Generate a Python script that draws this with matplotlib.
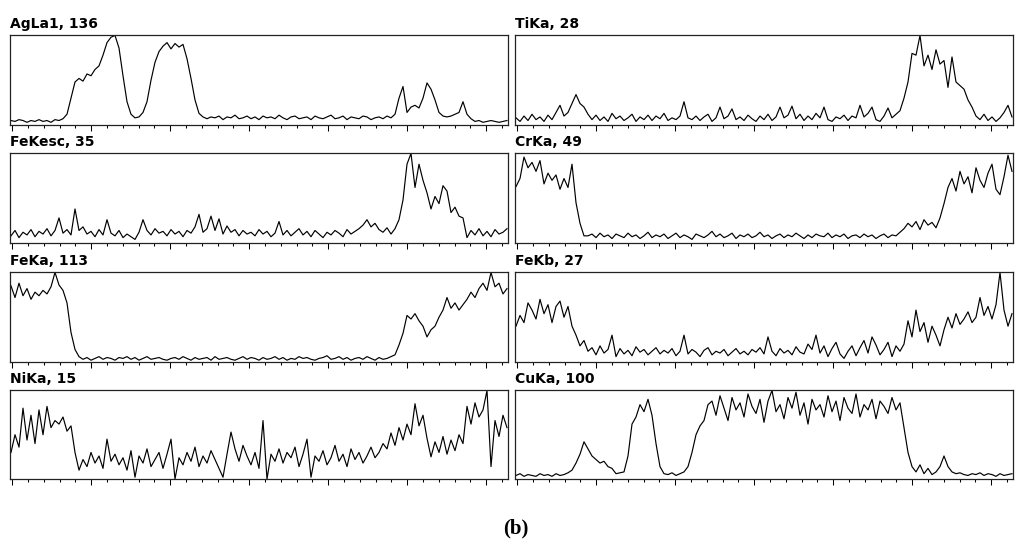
#!/usr/bin/env python3
"""
EDS line scan panels: eight element traces (relative intensity, % of max count)
arranged in a 4 x 2 grid, with the maximum count shown in each panel title.
"""

import numpy as np
import matplotlib
matplotlib.use("Agg")
import matplotlib.pyplot as plt

# ---- data (relative intensity in % of the panel maximum) -------------------
titles = ["AgLa1, 136", "TiKa, 28", "FeKesc, 35", "CrKa, 49",
          "FeKa, 113", "FeKb, 27", "NiKa, 15", "CuKa, 100"]

agla1 = [5, 4, 6, 5, 3, 5, 4, 6, 4, 5, 3, 6, 5, 7,
         12, 30, 48, 52, 49, 57, 55, 62, 66, 78, 92, 98, 100, 86, 55, 26,
         12, 8, 9, 14, 26, 50, 70, 82, 88, 92, 85, 91, 87, 90, 74, 52,
         28, 13, 9,
         7, 9, 8, 10, 6, 9, 8, 11, 7, 8, 10, 7, 9, 6, 10, 8, 9, 7, 11, 8,
         6, 9, 10, 7, 8, 9, 6, 10, 8, 7, 9, 11, 7, 8, 10, 6, 9, 8, 7, 10,
         9, 6, 8, 9, 7, 10, 8,
         12, 30, 43, 14, 20, 22, 19, 30, 47, 40, 28, 14, 10, 9, 10, 12, 14,
         26, 12, 7, 4, 5, 3, 4, 5, 4, 3, 4, 5]

tika = [8, 4, 10, 5, 12, 6, 9, 4, 11, 6, 14, 22, 10, 14, 24, 34, 24, 20, 12,
        6, 11, 5, 9, 4, 13, 7, 10, 5, 8, 12, 4, 9, 6, 11, 5, 10, 7, 13, 5,
        8, 6, 10,
        26, 8,
        6, 10, 5, 9, 12, 4, 8, 20, 7, 10, 18, 6, 9, 5, 11, 7, 4, 10, 6, 12,
        5, 9, 20, 8, 11, 21, 7, 12, 5, 10, 6, 13, 8, 20, 6, 4, 9, 7, 11, 5,
        10, 8, 22, 9, 13, 20, 6, 4, 10, 19, 8, 12,
        16, 30, 48, 80, 78, 100, 66, 78, 62, 84, 68, 72, 42, 76, 48, 44, 40,
        28, 20, 10, 6, 12, 5, 9, 4, 8, 14, 22, 9]

fekesc = [8, 14, 6, 12, 9, 15, 7, 13, 10, 16,
          8, 14, 28, 11, 15, 9, 38, 14, 18, 10,
          13, 7, 15, 9, 26, 11, 8, 14, 6, 10,
          7, 4, 12, 26, 14, 9, 16, 11, 13, 8,
          15, 10, 13, 7, 14, 11, 18, 32, 12, 16,
          30, 14, 27, 10, 19, 12, 15, 8, 14, 10,
          12, 8, 15, 10, 13, 7, 11, 24, 9, 14,
          8, 12, 16, 9, 13, 7, 14, 10, 6, 12,
          9, 14, 11, 7, 15, 10, 13, 16, 20, 26,
          18, 22, 15, 12, 17, 10, 16,
          26, 48, 88, 100, 62, 88, 70, 56, 38, 52, 44, 64, 58, 34, 40, 30,
          28, 6, 14, 9, 16, 8, 13, 7, 15, 10, 12, 16]

crka = [63, 72, 96, 84, 90, 80, 92, 66, 78, 70, 76, 60, 72, 62, 88, 45, 22, 8,
        8, 10, 6, 11, 7, 9, 5, 10, 8, 6,
        11, 7, 9, 5, 8, 12, 6, 9, 7, 10,
        5, 8, 11, 6, 9, 7, 4, 10, 8, 6,
        9, 13, 7, 10, 6, 8, 11, 5, 9, 7,
        10, 6, 8, 12, 7, 9, 5, 8, 10, 6,
        9, 7, 11, 8, 5, 9, 6, 10, 8, 7,
        11, 6, 9, 7, 10, 5, 8, 9, 6, 10,
        7, 9, 5, 8, 10, 6, 9, 8,
        12, 16, 22, 18, 24, 15, 26, 20, 23, 17, 28, 44, 62, 72, 58, 80, 66,
        74, 56, 84, 70, 62, 78, 88, 60, 54, 74, 98, 80]

feka = [85, 72, 88, 74, 82, 70, 78, 74, 80, 76, 84, 100, 86, 80, 66, 33, 14, 6,
        3, 5, 2, 4, 6, 3, 5, 4, 2, 5, 4, 6, 3, 5, 2, 4, 6, 3, 4, 5,
        3, 2, 4, 5, 3, 6, 4, 2, 5, 3, 4, 5, 2, 6, 3, 4, 5, 3, 2, 4,
        6, 3, 5, 4, 2, 5, 3, 4, 6, 3, 5, 2, 4, 3, 6, 4, 5, 3, 2, 4,
        5, 7, 3, 4, 6, 3, 5, 2, 4, 5, 3, 6, 4, 2, 5, 3, 4, 6,
        8, 19, 32, 52, 48, 54, 46, 40, 28, 36, 40, 50, 58, 72, 60, 66, 58,
        64, 70, 78, 72, 82, 88, 80, 100, 84, 88, 76, 82]

fekb = [40, 52, 44, 66, 58, 48, 70, 54, 64, 44, 62, 68, 50, 62, 40, 30, 18, 24,
        12, 16, 8, 18, 10, 14, 30, 6, 15, 9,
        13, 7, 17, 11, 14, 8, 12, 16, 9, 13,
        10, 15, 7, 12, 30, 9, 14, 11, 6, 13,
        16, 8, 12, 10, 14, 7, 11, 15, 9, 12,
        8, 14, 11, 16, 9, 28, 12, 7, 15, 10,
        13, 8, 17, 11, 9, 20, 14, 30, 10, 18,
        6, 15, 22, 9, 4, 12, 18, 7, 16, 24,
        10, 28, 19, 8, 14, 22, 6, 18, 12, 20,
        46, 28, 58, 34, 44, 22, 40, 30, 18, 36, 50, 38, 54, 42, 48, 56, 44,
        50, 72, 52, 62, 48, 64, 100, 58, 40, 54]

nika = [30, 50, 36, 80, 44, 72, 40, 78, 50, 82, 58, 66, 62, 70, 54, 60, 30, 10,
        22, 14, 30, 18, 26, 12, 45, 20, 28, 16,
        24, 10, 32, 2, 26, 18, 34, 14, 22, 30,
        12, 28, 45, 0, 24, 16, 30, 20, 36, 14,
        26, 18, 32, 22, 12, 2, 28, 53, 34, 20,
        38, 26, 16, 30, 12, 66, 0, 28, 20, 34,
        18, 30, 24, 36, 14, 28, 45, 2, 26, 20,
        32, 16, 24, 38, 20, 28, 14, 34, 22, 30,
        18, 26, 36, 24, 30, 40,
        34, 52, 38, 58, 44, 62, 50, 85, 60, 72, 46, 25, 42, 30, 48, 28, 44,
        32, 50, 40, 82, 62, 86, 70, 78, 100, 14, 66, 48, 72, 58]

cuka = [4, 6, 3, 5, 4, 3, 6, 4, 5, 3, 6, 4, 5, 7,
        10, 18, 28, 42, 34, 26, 22, 18, 20, 14, 12, 6, 7, 8, 26, 62, 70, 84,
        76, 90, 72, 40, 14, 6, 5, 7, 4, 6, 8, 14, 30, 50, 60, 66, 84,
        88, 72, 94, 80, 66, 92, 78, 86, 70, 96, 82, 74, 90, 64, 88, 100,
        76, 84, 68, 92, 80, 98, 72, 86, 62, 90, 78, 84, 70, 94, 76, 88, 66,
        92, 80, 74, 96, 70, 84, 78, 90, 68, 88, 82, 74, 92, 78, 86,
        58, 30, 14, 8, 16, 6, 12, 5, 8, 14, 26, 14, 8,
        6, 7, 5, 4, 6, 5, 7, 4, 6, 5, 3, 6, 4, 5, 6]

series = [agla1, tika, fekesc, crka, feka, fekb, nika, cuka]


def draw_panel(ax, values, title):
    """Draw one line-scan trace in a boxed panel with bottom ticks only."""
    x = np.arange(len(values))
    ax.plot(x, values, color="black", linewidth=0.85)
    ax.set_xlim(-0.25, len(values) - 0.75)
    ax.set_ylim(0, 100.5)

    # tick marks every ~15.8 px, longer one every fifth
    step = 3.95
    ticks = np.arange(32) * step + 0.3
    ax.set_xticks(ticks[::5])
    ax.set_xticks(ticks, minor=True)
    ax.tick_params(axis="x", which="major", direction="out", length=4,
                   width=0.75, labelbottom=False)
    ax.tick_params(axis="x", which="minor", direction="out", length=2.5,
                   width=0.75)
    ax.set_yticks([])
    for spine in ax.spines.values():
        spine.set_linewidth(0.9)
        spine.set_color("#222222")

    ax.annotate(title, xy=(0, 1), xycoords="axes fraction",
                xytext=(0, 5), textcoords="offset points",
                ha="left", va="baseline", fontsize=10, fontweight="bold",
                family="DejaVu Sans")


def main():
    fig = plt.figure(figsize=(10.24, 5.48), dpi=100)
    W, H = 1024.0, 548.0

    lefts = [10, 515]
    rows = [(35, 125), (153, 243), (272, 362), (390, 479)]
    width = 498

    for k, (values, title) in enumerate(zip(series, titles)):
        r, c = divmod(k, 2)
        top, bottom = rows[r]
        ax = fig.add_axes([lefts[c] / W, 1 - bottom / H,
                           width / W, (bottom - top) / H])
        draw_panel(ax, values, title)

    fig.text(516 / W, 1 - 533 / H, "(b)", ha="center", va="baseline",
             fontsize=15, fontweight="bold", family="Liberation Serif")

    fig.savefig("out.png", dpi=100, facecolor="white")


if __name__ == "__main__":
    main()
